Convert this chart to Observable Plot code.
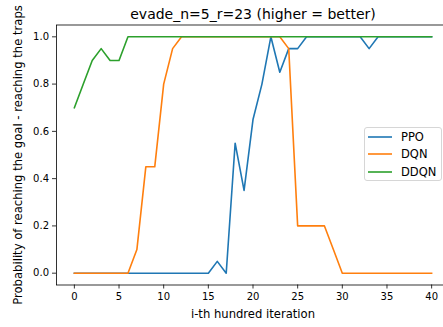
<!DOCTYPE html>
<html><head><meta charset="utf-8">
<script src="https://cdn.jsdelivr.net/npm/d3@7"></script>
<script src="https://cdn.jsdelivr.net/npm/@observablehq/plot@0.6"></script>
<style>
body{margin:0;background:#fff;font-family:"DejaVu Sans",sans-serif;}
#wrap{position:relative;width:443px;height:327px;overflow:hidden;background:#fff;}
#wrap svg{overflow:visible;}
.legend{position:absolute;left:364px;top:127px;width:78px;height:54px;box-sizing:border-box;border:1px solid #d6d6d6;border-radius:3px;background:rgba(255,255,255,0.8);font:11.5px "DejaVu Sans";color:#000;padding-top:0px;}
.legend .row{height:17.5px;display:flex;align-items:center;}
.legend svg{margin-left:3px;margin-right:9px;overflow:visible;}
</style></head><body><div id="wrap"></div>
<script>
const title = "evade_n=5_r=23 (higher = better)";
const xLabel = "i-th hundred iteration";
const yLabel = "Probability of reaching the goal - reaching the traps";
const seriesNames = ["PPO", "DQN", "DDQN"];
const seriesColors = ["#1f77b4", "#ff7f0e", "#2ca02c"];
const iterations = [0,1,2,3,4,5,6,7,8,9,10,11,12,13,14,15,16,17,18,19,20,21,22,23,24,25,26,27,28,29,30,31,32,33,34,35,36,37,38,39,40];
const ppo  = [0,0,0,0,0,0,0,0,0,0,0,0,0,0,0,0,0.05,0,0.55,0.35,0.65,0.8,1,0.85,0.95,0.95,1,1,1,1,1,1,1,0.95,1,1,1,1,1,1,1];
const dqn  = [0,0,0,0,0,0,0,0.1,0.45,0.45,0.8,0.95,1,1,1,1,1,1,1,1,1,1,1,1,0.95,0.2,0.2,0.2,0.2,0.1,0,0,0,0,0,0,0,0,0,0,0];
const ddqn = [0.7,0.8,0.9,0.95,0.9,0.9,1,1,1,1,1,1,1,1,1,1,1,1,1,1,1,1,1,1,1,1,1,1,1,1,1,1,1,1,1,1,1,1,1,1,1];
const xTicks = [0,5,10,15,20,25,30,35,40];
const yTicks = [0,0.2,0.4,0.6,0.8,1.0];

const seriesValues = [ppo, dqn, ddqn];
const rows = [];
seriesNames.forEach((name, k) => seriesValues[k].forEach((v, i) => rows.push({it: iterations[i], p: v, s: name})));

const chart = Plot.plot({
  width: 443, height: 327,
  marginLeft: 56, marginRight: -6, marginTop: 24.5, marginBottom: 42.5,
  style: {fontFamily: "DejaVu Sans", fontSize: "10px", color: "#000", background: "#fff", overflow: "visible"},
  x: {domain: [-2, 42]},
  y: {domain: [-0.05, 1.05]},
  color: {domain: seriesNames, range: seriesColors},
  marks: [
    Plot.line(rows, {x: "it", y: "p", z: "s", stroke: "s", strokeWidth: 1.6, strokeLinejoin: "round", strokeLinecap: "square"}),
    Plot.frame({stroke: "#000", strokeWidth: 0.8}),
    Plot.axisX({ticks: xTicks, tickSize: 4, tickPadding: 3.5, label: null, stroke: "#000", strokeWidth: 0.8, fontSize: 10}),
    Plot.axisY({ticks: yTicks, tickFormat: d3.format(".1f"), tickSize: 4, tickPadding: 3.5, label: null, stroke: "#000", strokeWidth: 0.8, fontSize: 10}),
    Plot.text([xLabel], {text: d => d, frameAnchor: "bottom", dy: 29, lineAnchor: "middle", fontSize: 11.6, fill: "#000"}),
    Plot.text([yLabel], {text: d => d, frameAnchor: "left", dx: -38, rotate: -90, textAnchor: "middle", lineAnchor: "middle", fontSize: 11.6, fill: "#000"}),
    Plot.text([title], {text: d => d, frameAnchor: "top", dy: -10, lineAnchor: "middle", fontSize: 14, fill: "#000"})
  ]
});
const wrap = document.getElementById("wrap");
wrap.appendChild(chart);

const legend = d3.select(wrap).append("div").attr("class", "legend");
seriesNames.forEach((name, k) => {
  const row = legend.append("div").attr("class", "row");
  const sw = row.append("svg").attr("width", 24).attr("height", 4);
  sw.append("line").attr("x1", 0).attr("x2", 24).attr("y1", 2).attr("y2", 2)
    .attr("stroke", seriesColors[k]).attr("stroke-width", 1.6);
  row.append("span").text(name);
});
</script>
</body></html>
